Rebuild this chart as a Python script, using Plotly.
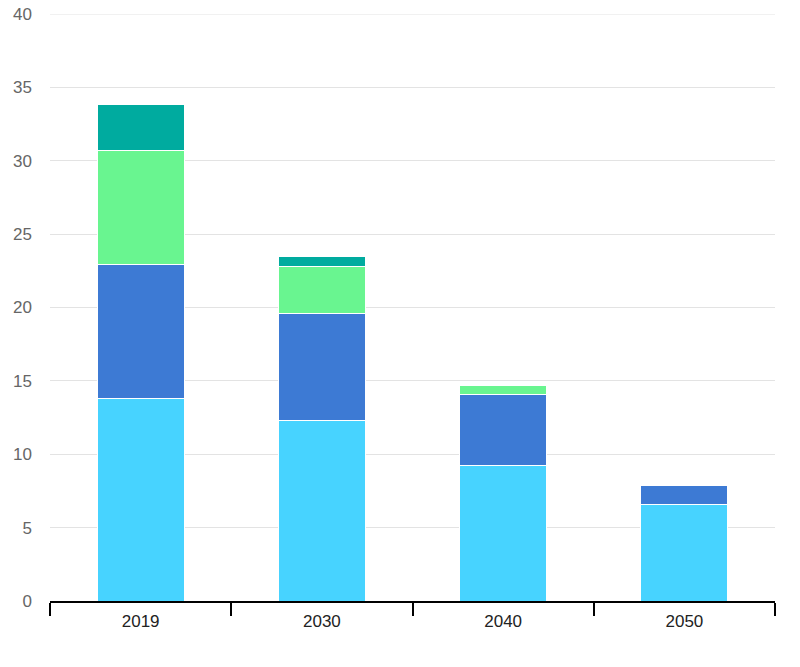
import plotly.graph_objects as go

years = ["2019", "2030", "2040", "2050"]
series_a = [13.8, 12.3, 9.2, 6.6]
series_b = [9.1, 7.3, 4.9, 1.3]
series_c = [7.8, 3.2, 0.6, 0.0]
series_d = [3.1, 0.7, 0.0, 0.0]
y_ticks = [0, 5, 10, 15, 20, 25, 30, 35, 40]
y_max = 40

colors = ["#47D3FF", "#3D7AD4", "#69F590", "#00AB9F"]
names = ["A", "B", "C", "D"]

fig = go.Figure()
for name, vals, col in zip(names, [series_a, series_b, series_c, series_d], colors):
    fig.add_trace(go.Bar(
        x=years, y=vals, name=name,
        marker=dict(color=col, line=dict(color="white", width=1)),
        width=0.48,
    ))

fig.update_layout(
    barmode="stack",
    width=800, height=667,
    margin=dict(l=50, r=25, t=14, b=66),
    plot_bgcolor="white", paper_bgcolor="white",
    showlegend=False,
    font=dict(family="Liberation Sans, Arial, sans-serif"),
)
# top gridline (plotly drops the grid line at the range edge)
fig.add_shape(type="line", xref="paper", x0=0, x1=1, yref="y", y0=y_max, y1=y_max,
              line=dict(color="#e3e3e3", width=1), layer="below")
fig.update_xaxes(
    type="category", automargin=False,
    showline=True, linecolor="black", linewidth=1.5,
    ticks="outside", tickson="boundaries", ticklen=13, tickwidth=1.5, tickcolor="black",
    tickfont=dict(size=17, color="#222"),
    ticklabelstandoff=4,
    showgrid=False,
)
fig.update_yaxes(
    range=[0, y_max], tickvals=y_ticks, automargin=False,
    showgrid=True, gridcolor="#e3e3e3", gridwidth=1,
    zeroline=False,
    tickfont=dict(size=17, color="#666"),
    ticklabelstandoff=17,
)
fig.write_html("out.html", config={"displayModeBar": False},
               post_script="document.body.style.margin='0px';")
